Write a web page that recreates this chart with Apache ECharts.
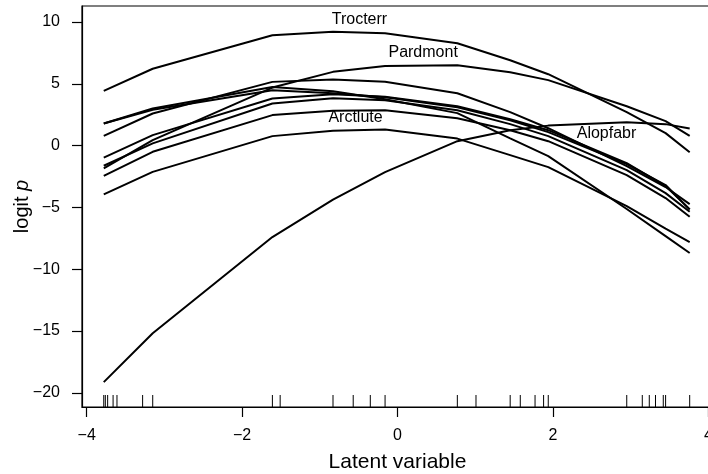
<!DOCTYPE html>
<html>
<head>
<meta charset="utf-8">
<script src="https://cdn.jsdelivr.net/npm/echarts@6/dist/echarts.min.js"></script>
<style>
  html, body { margin: 0; padding: 0; background: #fff; }
  #chart { width: 708px; height: 474px; }
</style>
</head>
<body>
<div id="chart"></div>
<script>
// sites along the latent variable where the fitted curves were evaluated
var sites = [-3.78, -3.15, -1.61, -0.83, -0.16, 0.77, 1.45, 1.94, 2.95, 3.45, 3.76];

// fitted logit p for each species, one value per site
var trocterr = [4.43, 6.22, 8.93, 9.22, 9.09, 8.29, 6.91, 5.78, 2.71, 1.01, -0.53];
var pardmont = [-1.84, 0.44, 4.70, 5.97, 6.45, 6.51, 5.94, 5.30, 3.19, 1.98, 0.79];
var alopfabr = [-19.14, -15.18, -7.40, -4.37, -2.14, 0.36, 1.25, 1.62, 1.90, 1.74, 1.39];
var arctlute = [-3.94, -2.12, 0.77, 1.21, 1.31, 0.57, -0.77, -1.74, -4.89, -6.72, -7.80];
var spF = [1.79, 3.01, 4.75, 4.41, 3.76, 2.63, 0.59, -0.85, -5.13, -7.32, -8.69];
var spG = [1.79, 2.91, 4.49, 4.24, 3.92, 3.11, 2.06, 1.09, -1.50, -3.19, -5.16];
var spH = [0.79, 2.60, 5.16, 5.35, 5.17, 4.24, 2.71, 1.41, -1.66, -3.35, -4.73];
var spI = [-0.97, 0.85, 3.82, 4.16, 3.95, 3.19, 2.14, 1.25, -1.41, -3.27, -5.16];
var spJ = [-1.63, 0.18, 3.41, 3.84, 3.68, 2.87, 1.74, 0.77, -1.98, -3.84, -5.35];
var spL = [-2.44, -0.50, 2.47, 2.83, 2.87, 2.22, 1.25, 0.36, -2.38, -4.24, -5.76];

var curves = [trocterr, pardmont, alopfabr, arctlute, spF, spG, spH, spI, spJ, spL];

// rug: site scores
var rug = [-3.78, -3.76, -3.73, -3.66, -3.61, -3.28, -3.15, -1.61, -1.51, -0.83, -0.57,
           -0.35, -0.16, 0.77, 1.01, 1.45, 1.58, 1.77, 1.88, 1.94, 2.95, 3.15, 3.24,
           3.32, 3.42, 3.45, 3.76];

// curve labels
var labelNames = ['Trocterr', 'Pardmont', 'Arctlute', 'Alopfabr'];
var labelX = [-0.49, 0.33, -0.54, 2.69];
var labelY = [10.2, 7.5, 2.25, 0.95];

var xTicks = [-4, -2, 0, 2, 4];
var yTicks = [-20, -15, -10, -5, 0, 5, 10];

var xMin = -4.06, xMax = 4.06;
var yMin = -21.15, yMax = 11.3;

var font = 'Liberation Sans, Arial, Helvetica, sans-serif';

function fmt(v) {
    return v < 0 ? '\u2212' + Math.abs(v) : String(v);
}

var series = [];
curves.forEach(function(c) {
    series.push({
        type: 'line',
        data: sites.map(function(x, i) { return [x, c[i]]; }),
        showSymbol: false,
        symbol: 'none',
        lineStyle: {color: '#000', width: 2},
        silent: true
    });
});

series.push({
    type: 'scatter',
    data: rug.map(function(x) { return [x, yMin]; }),
    symbol: 'rect',
    symbolSize: [1, 12],
    symbolOffset: [0, -6],
    itemStyle: {color: '#000', opacity: 1},
    clip: false,
    silent: true
});

series.push({
    type: 'scatter',
    data: labelNames.map(function(n, i) { return [labelX[i], labelY[i], n]; }),
    symbolSize: 0,
    itemStyle: {color: '#000', opacity: 1},
    label: {
        show: true,
        position: 'inside',
        formatter: function(p) { return p.data[2]; },
        color: '#000',
        opacity: 1,
        textBorderWidth: 0,
        fontFamily: font,
        fontSize: 16
    },
    silent: true
});

var option = {
    backgroundColor: '#fff',
    animation: false,
    grid: {
        left: 82, top: 6, width: 631, height: 401,
        outerBoundsMode: 'none',
        containLabel: false,
        show: true, borderColor: '#000', borderWidth: 1.2, backgroundColor: 'transparent'
    },
    xAxis: {
        type: 'value',
        min: xMin, max: xMax,
        name: 'Latent variable',
        nameLocation: 'middle',
        nameGap: 55,
        nameTextStyle: {color: '#000', fontFamily: font, fontSize: 21, verticalAlign: 'middle'},
        axisLine: {show: true, onZero: false, lineStyle: {color: '#000', width: 1.2}},
        axisTick: {show: true, inside: false, length: 10, lineStyle: {color: '#000', width: 1.2}, customValues: xTicks},
        axisLabel: {color: '#000', fontFamily: font, fontSize: 16, margin: 21, formatter: fmt, customValues: xTicks},
        splitLine: {show: false}
    },
    yAxis: {
        type: 'value',
        min: yMin, max: yMax,
        name: '{a|logit }{b|p}',
        nameLocation: 'middle',
        nameGap: 50,
        nameMoveOverlap: false,
        nameRotate: 90,
        nameTextStyle: {
            rich: {
                a: {color: '#000', fontFamily: font, fontSize: 20},
                b: {color: '#000', fontFamily: font, fontSize: 20, fontStyle: 'italic'}
            }
        },
        axisLine: {show: true, onZero: false, lineStyle: {color: '#000', width: 1.2}},
        axisTick: {show: true, inside: false, length: 10, lineStyle: {color: '#000', width: 1.2}, customValues: yTicks},
        axisLabel: {color: '#000', fontFamily: font, fontSize: 16, margin: 22, formatter: fmt, customValues: yTicks},
        splitLine: {show: false}
    },
    series: series
};

var myChart = echarts.init(document.getElementById('chart'));
myChart.setOption(option);
</script>
</body>
</html>
